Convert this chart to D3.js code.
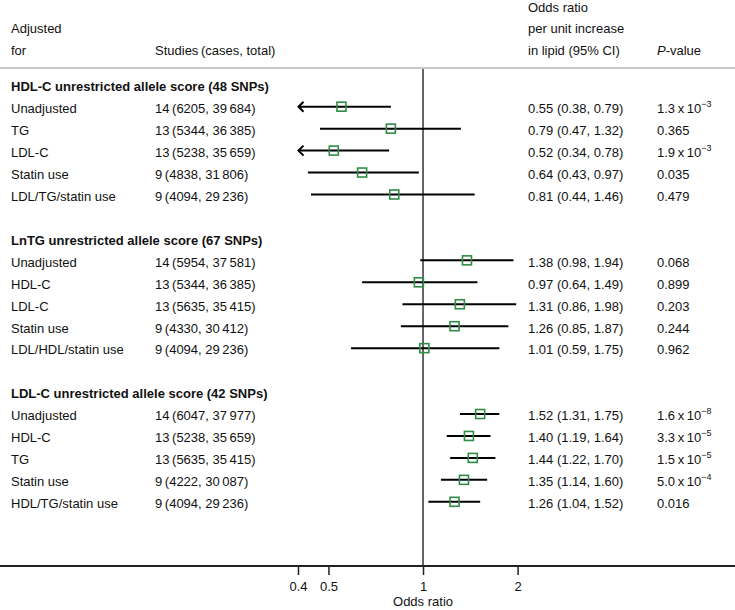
<!DOCTYPE html>
<html><head><meta charset="utf-8">
<script src="https://cdn.jsdelivr.net/npm/d3@7"></script>
<style>
html,body{margin:0;padding:0;background:#fff;}
svg{display:block;font-family:"Liberation Sans",Arial,Helvetica,sans-serif;font-size:13px;}
</style></head>
<body>
<svg id="chart" width="735" height="610"></svg>
<script>
// ---- data ----
const groupTitles = ["HDL-C unrestricted allele score (48 SNPs)",
                     "LnTG unrestricted allele score (67 SNPs)",
                     "LDL-C unrestricted allele score (42 SNPs)"];
const adjustedFor = [
  ["Unadjusted","TG","LDL-C","Statin use","LDL/TG/statin use"],
  ["Unadjusted","HDL-C","LDL-C","Statin use","LDL/HDL/statin use"],
  ["Unadjusted","HDL-C","TG","Statin use","HDL/TG/statin use"]];
const studies = [[14,13,13,9,9],[14,13,13,9,9],[14,13,13,9,9]];
const cases = [[6205,5344,5238,4838,4094],[5954,5344,5635,4330,4094],[6047,5238,5635,4222,4094]];
const totals = [[39684,36385,35659,31806,29236],[37581,36385,35415,30412,29236],[37977,35659,35415,30087,29236]];
const oddsRatio = [[0.55,0.79,0.52,0.64,0.81],[1.38,0.97,1.31,1.26,1.01],[1.52,1.40,1.44,1.35,1.26]];
const ciLow = [[0.38,0.47,0.34,0.43,0.44],[0.98,0.64,0.86,0.85,0.59],[1.31,1.19,1.22,1.14,1.04]];
const ciHigh = [[0.79,1.32,0.78,0.97,1.46],[1.94,1.49,1.98,1.87,1.75],[1.75,1.64,1.70,1.60,1.52]];
const pValues = [[1.3e-3,0.365,1.9e-3,0.035,0.479],[0.068,0.899,0.203,0.244,0.962],[1.6e-8,3.3e-5,1.5e-5,5.0e-4,0.016]];
const tickValues = [0.4,0.5,1,2];
const xDomain = [0.4,2];

// ---- layout ----
const W = 735, H = 610;
const svg = d3.select("#chart");
const x = d3.scaleLog().domain(xDomain).range([298, 517.6]);
const slotsPerGroup = 7;
const y = d3.scaleLinear().domain([0, 19]).range([84.75, 501.8]);
const colAdj = 11, colStudies = 155, colOR = 528, colP = 657;
const axisY = 566, sepY = 68;
const green = "#2f8c46";
const txtOff = 6.3;

// header
const hdr = svg.append("g").attr("fill","#111");
hdr.append("text").attr("x",colAdj).attr("y",33).text("Adjusted");
hdr.append("text").attr("x",colAdj).attr("y",54.5).text("for");
hdr.append("text").attr("x",colStudies).attr("y",54.5).text("Studies\u2009(cases, total)");
hdr.append("text").attr("x",colOR).attr("y",12).text("Odds ratio");
hdr.append("text").attr("x",colOR).attr("y",33).text("per unit increase");
hdr.append("text").attr("x",colOR).attr("y",54.5).text("in lipid (95% CI)");
const pv = hdr.append("text").attr("x",colP).attr("y",54.5);
pv.append("tspan").attr("font-style","italic").text("P");
pv.append("tspan").text("-value");

svg.append("line").attr("x1",0).attr("x2",W).attr("y1",sepY).attr("y2",sepY)
  .attr("stroke","#c9c9c9").attr("stroke-width",2);

// reference line at OR = 1
svg.append("line").attr("x1",x(1)).attr("x2",x(1)).attr("y1",sepY+1).attr("y2",axisY)
  .attr("stroke","#333").attr("stroke-width",1.5);

// axis
svg.append("line").attr("x1",0).attr("x2",W).attr("y1",axisY).attr("y2",axisY)
  .attr("stroke","#222").attr("stroke-width",2);
const axis = d3.axisBottom(x).tickValues(tickValues).tickFormat(d3.format("")).tickSize(9).tickPadding(6.5);
const ag = svg.append("g").attr("transform",`translate(0,${axisY})`).call(axis);
ag.select(".domain").remove();
ag.selectAll(".tick line").attr("stroke","#222").attr("stroke-width",1.5);
ag.selectAll(".tick text").attr("font-size",13).attr("font-family","Liberation Sans, Arial, sans-serif").attr("fill","#111");
svg.append("text").attr("x",x(1)).attr("y",605.5).attr("text-anchor","middle").attr("fill","#111").text("Odds ratio");

const fmtTotal = n => n >= 10000 ? d3.format(",")(n).replace(",", "\u2009") : String(n);

groupTitles.forEach((title, g) => {
  const base = g * slotsPerGroup;
  svg.append("text").attr("x",colAdj).attr("y",y(base)+txtOff).attr("font-weight","bold").attr("fill","#111").text(title);
  const rows = adjustedFor[g].map((a, i) => ({
    adj: a, st: studies[g][i], ca: cases[g][i], to: totals[g][i],
    or: oddsRatio[g][i], lo: ciLow[g][i], hi: ciHigh[g][i], p: pValues[g][i],
    yy: y(base + 1 + i)
  }));
  const rg = svg.append("g");
  const r = rg.selectAll("g.row").data(rows).join("g").attr("class","row");
  r.append("text").attr("x",colAdj).attr("y",d=>d.yy+txtOff).attr("fill","#111").text(d=>d.adj);
  r.append("text").attr("x",colStudies).attr("y",d=>d.yy+txtOff).attr("fill","#111")
    .text(d=>`${d.st}\u2009(${d.ca}, ${fmtTotal(d.to)})`);
  r.append("text").attr("x",colOR).attr("y",d=>d.yy+txtOff).attr("fill","#111")
    .text(d=>`${d.or.toFixed(2)} (${d.lo.toFixed(2)}, ${d.hi.toFixed(2)})`);
  r.each(function(d){
    const t = d3.select(this).append("text").attr("x",colP).attr("y",d.yy+txtOff).attr("fill","#111");
    if (d.p < 0.01) {
      const e = Math.floor(Math.log10(d.p) + 1e-9);
      const m = d.p / Math.pow(10, e);
      t.append("tspan").text(`${m.toFixed(1)}\u2009x\u200910`);
      t.append("tspan").attr("font-size",9).attr("dy",-6).text(`\u2212${-e}`);
    } else {
      t.text(d.p.toFixed(3));
    }
  });
  // CI lines
  r.append("line").attr("x1",d=>x(Math.max(d.lo, xDomain[0]))).attr("x2",d=>x(d.hi))
    .attr("y1",d=>d.yy).attr("y2",d=>d.yy).attr("stroke","#000").attr("stroke-width",2);
  // arrows when CI exceeds domain
  r.filter(d=>d.lo < xDomain[0]).append("path")
    .attr("d",d=>{const x0=x(xDomain[0]); return `M${x0+5.5},${d.yy-5}L${x0+0.5},${d.yy}L${x0+5.5},${d.yy+5}`;})
    .attr("fill","none").attr("stroke","#000").attr("stroke-width",2);
  // squares
  r.append("rect").attr("x",d=>x(d.or)-4.5).attr("y",d=>d.yy-4.5).attr("width",9).attr("height",9)
    .attr("fill","none").attr("stroke",green).attr("stroke-width",1.6);
});
</script>
</body></html>
